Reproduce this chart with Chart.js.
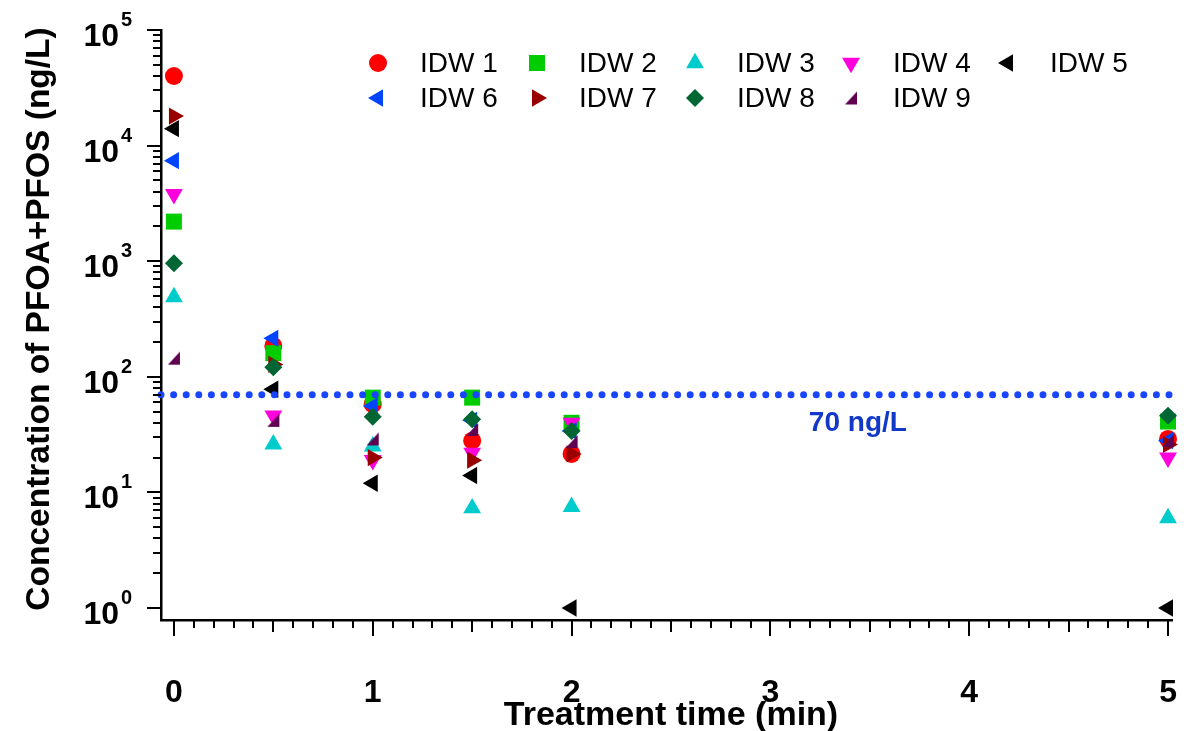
<!DOCTYPE html>
<html>
<head>
<meta charset="utf-8">
<script src="https://cdn.jsdelivr.net/npm/chart.js@4.4.1/dist/chart.umd.min.js"></script>
<style>
  html, body { margin: 0; padding: 0; background: #fff; }
  #wrap { width: 1197px; height: 731px; }
</style>
</head>
<body>
<div id="wrap"><canvas id="chart" width="1197" height="731"></canvas></div>
<script>
// sampling times (min)
const times = [0, 0.5, 1, 1.5, 2, 5];

// PFOA+PFOS concentration, ng/L, one list per water sample
const idw1 = [40000, 185, 58, 28, 21.5, 29];
const idw2 = [2200, 160, 66, 66, 40, 41];
const idw3 = [490, 26, 25, 7.3, 7.5, 6];
const idw4 = [3800, 46, 19, 22, 40, 20];
const idw5 = [14000, 78, 12, 14, 1, 1];
const idw6 = [7400, 215, 56, 42, 34, 28];
const idw7 = [18000, 128, 20, 19, 21.5, 26];
const idw8 = [960, 121, 45, 43, 34, 46];
const idw9 = [145, 42, 29, 35, 27.5, 28];

const seriesNames = ['IDW 1', 'IDW 2', 'IDW 3', 'IDW 4', 'IDW 5', 'IDW 6', 'IDW 7', 'IDW 8', 'IDW 9'];
const xTickValues = [0, 1, 2, 3, 4, 5];
const yDecades = [0, 1, 2, 3, 4, 5];
const limitValue = 70;
const limitLabel = '70 ng/L';

const FONT = '"Liberation Sans", Arial, sans-serif';

// little right-angled triangle used for IDW 9
function cornerTriangle(color) {
    const c = document.createElement('canvas');
    c.width = 14;
    c.height = 15;
    const g = c.getContext('2d');
    g.fillStyle = color;
    g.beginPath();
    g.moveTo(1, 14);
    g.lineTo(13, 14);
    g.lineTo(13, 1);
    g.closePath();
    g.fill();
    return c;
}

const markers = [
    { color: '#ff0000', style: 'circle', rotation: 0, radius: 9 },
    { color: '#00cc00', style: 'rect', rotation: 0, radius: 11.3 },
    { color: '#00cccc', style: 'triangle', rotation: 0, radius: 10.3 },
    { color: '#ff00dd', style: 'triangle', rotation: 180, radius: 10.3 },
    { color: '#000000', style: 'triangle', rotation: -90, radius: 10 },
    { color: '#0044ff', style: 'triangle', rotation: -90, radius: 10 },
    { color: '#990000', style: 'triangle', rotation: 90, radius: 10 },
    { color: '#006633', style: 'rectRot', rotation: 0, radius: 9 },
    { color: '#600050', style: cornerTriangle('#600050'), rotation: 0, radius: 7 }
];

const allSeries = [idw1, idw2, idw3, idw4, idw5, idw6, idw7, idw8, idw9];

const datasets = allSeries.map((vals, i) => ({
    label: seriesNames[i],
    data: vals.map((v, j) => ({ x: times[j], y: v })),
    backgroundColor: markers[i].color,
    borderColor: markers[i].color,
    pointStyle: markers[i].style,
    rotation: markers[i].rotation,
    pointRadius: markers[i].radius,
    pointBorderWidth: 0,
    order: 20 - i,
    clip: false
}));

// 70 ng/L limit, dotted
datasets.push({
    label: 'limit',
    data: [{ x: -0.065, y: limitValue }, { x: 5.05, y: limitValue }],
    showLine: true,
    pointRadius: 0,
    borderColor: '#1a45ff',
    borderWidth: 7,
    borderDash: [0, 12.6],
    borderCapStyle: 'round',
    order: 1,
    clip: false
});

const decor = {
    id: 'decor',
    afterDraw(chart) {
        const ctx = chart.ctx;
        const xs = chart.scales.x;
        const ys = chart.scales.y;
        const area = chart.chartArea;
        ctx.save();
        ctx.strokeStyle = '#000';
        ctx.lineWidth = 2;

        // x ticks: every 0.1, longer at .5 and integers
        for (let k = 0; k <= 50; k++) {
            const v = k / 10;
            const px = Math.round(xs.getPixelForValue(v));
            const len = k % 10 === 0 ? 16 : (k % 5 === 0 ? 12 : 8);
            ctx.beginPath();
            ctx.moveTo(px, area.bottom);
            ctx.lineTo(px, area.bottom + len);
            ctx.stroke();
        }

        // y ticks: log decades with minors
        for (let d = 0; d <= 5; d++) {
            for (let m = 1; m <= 9; m++) {
                if (d === 5 && m > 1) break;
                const v = m * Math.pow(10, d);
                const py = Math.round(ys.getPixelForValue(v));
                const len = m === 1 ? 14 : 8;
                ctx.beginPath();
                ctx.moveTo(area.left, py);
                ctx.lineTo(area.left - len, py);
                ctx.stroke();
            }
        }

        ctx.fillStyle = '#000';

        // x tick labels
        ctx.font = 'bold 32px ' + FONT;
        ctx.textAlign = 'center';
        ctx.textBaseline = 'alphabetic';
        xTickValues.forEach(v => {
            ctx.fillText(String(v), xs.getPixelForValue(v), 702);
        });

        // y tick labels 10^n
        yDecades.forEach(d => {
            const py = ys.getPixelForValue(Math.pow(10, d));
            ctx.textAlign = 'left';
            ctx.font = 'bold 20px ' + FONT;
            ctx.fillText(String(d), 121, py - 4);
            ctx.textAlign = 'right';
            ctx.font = 'bold 32px ' + FONT;
            ctx.fillText('10', 119, py + 16);
        });

        // axis titles
        ctx.font = 'bold 34px ' + FONT;
        ctx.textAlign = 'center';
        ctx.fillText('Treatment time (min)', 671, 725);
        ctx.save();
        ctx.font = 'bold 33.5px ' + FONT;
        ctx.translate(49, (ys.getPixelForValue(1) + ys.getPixelForValue(1e5)) / 2);
        ctx.rotate(-Math.PI / 2);
        ctx.fillText('Concentration of PFOA+PFOS (ng/L)', 0, 0);
        ctx.restore();

        // limit label
        ctx.font = 'bold 28px ' + FONT;
        ctx.fillStyle = '#1238c8';
        ctx.textAlign = 'center';
        ctx.fillText(limitLabel, xs.getPixelForValue(3.44), ys.getPixelForValue(limitValue) + 36);

        // legend, 5 columns x 2 rows
        const colMarker = [378, 537, 695, 851, 1008];
        const rowY = [63, 98];
        ctx.font = '28px ' + FONT;
        ctx.textAlign = 'left';
        ctx.textBaseline = 'middle';
        seriesNames.forEach((name, i) => {
            const col = i % 5;
            const row = Math.floor(i / 5);
            const mx = colMarker[col];
            const my = rowY[row];
            ctx.fillStyle = markers[i].color;
            Chart.helpers.drawPoint(ctx, {
                pointStyle: markers[i].style,
                rotation: markers[i].rotation,
                radius: markers[i].radius,
                borderWidth: 0
            }, mx, my);
            ctx.fillStyle = '#000';
            ctx.fillText(name, mx + 42, my + 1);
        });

        ctx.restore();
    }
};

new Chart(document.getElementById('chart'), {
    type: 'scatter',
    data: { datasets: datasets },
    options: {
        responsive: false,
        animation: false,
        events: [],
        layout: { padding: { left: 161, right: 25, top: 30, bottom: 111 } },
        plugins: {
            legend: { display: false },
            tooltip: { enabled: false }
        },
        scales: {
            x: {
                type: 'linear',
                min: -0.065,
                max: 5.02,
                ticks: { display: false },
                grid: { display: false, drawTicks: false },
                border: { display: true, color: '#000', width: 2.5 }
            },
            y: {
                type: 'logarithmic',
                min: 0.787,
                max: 100000,
                ticks: { display: false },
                grid: { display: false, drawTicks: false },
                border: { display: true, color: '#000', width: 2.5 }
            }
        }
    },
    plugins: [decor]
});
</script>
</body>
</html>
